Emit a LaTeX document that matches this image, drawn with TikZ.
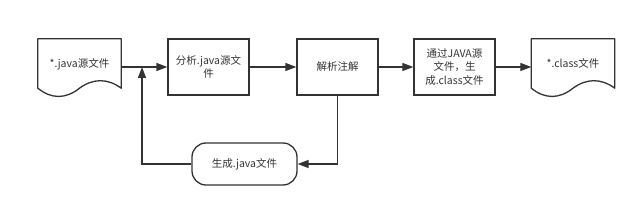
\documentclass[tikz,border=0pt]{standalone}
\usepackage{fontspec}
\setmainfont{Noto Sans CJK SC}
\usetikzlibrary{arrows.meta,calc}
\definecolor{ink}{HTML}{333333}
\begin{document}
\begin{tikzpicture}[x=1pt,y=1pt,
  every node/.style={font=\fontsize{10.5}{13.5}\selectfont, text=ink},
  procbox/.style={draw=ink, line width=1.3pt, minimum width=81pt, minimum height=56pt, align=center, inner sep=2pt},
  docbox/.style={minimum width=83pt, minimum height=56pt, align=center, text height=8pt, text depth=7pt},
  termbox/.style={draw=ink, line width=1.3pt, minimum width=105pt, minimum height=42pt, rounded corners=14pt},
  docline/.style={draw=ink, line width=1.3pt, line join=round},
  conn/.style={draw=ink, line width=1.3pt, -{Triangle[length=11pt,width=8pt]}},
  plain/.style={draw=ink, line width=1.3pt}]
\useasboundingbox[fill=white] (0,0) rectangle (640,211);

\node[docbox] (d1) at (79.5,144) {*.java源文件};
\node[procbox] (b2) at (208.5,144) {分析.java源文\\件};
\node[procbox] (b3) at (337.5,144) {解析注解};
\node[procbox] (b4) at (454.5,144) {通过JAVA源\\文件，生\\成.class文件};
\node[docbox] (d2) at (573,144) {*.class文件};
\node[termbox] (t) at (244.5,47) {生成.java文件};
\coordinate (j) at (142,144);

% document shapes
\foreach \d in {d1,d2}{
  \draw[docline] (\d.south west) ++(0,7) coordinate (bl)
    (\d.south east) ++(0,7) coordinate (br)
    (\d.north west) -- (\d.north east) -- (br)
    .. controls ($(br)+(-13.5,10)$) and ($(br)+(-28,10)$) .. ($(bl)!0.5!(br)$)
    .. controls ($(bl)+(28,-11)$) and ($(bl)+(13.5,-11)$) .. (bl) -- cycle;
}

\draw[plain] (d1.east) -- (j);
\draw[conn] (j) -- (b2.west);
\draw[conn] (b2) -- (b3);
\draw[conn] (b3) -- (b4);
\draw[conn] (b4) -- (d2.west);
\draw[conn] (b3.south) |- (t.east);
\draw[conn] (t.west) -| (j);
\end{tikzpicture}
\end{document}
